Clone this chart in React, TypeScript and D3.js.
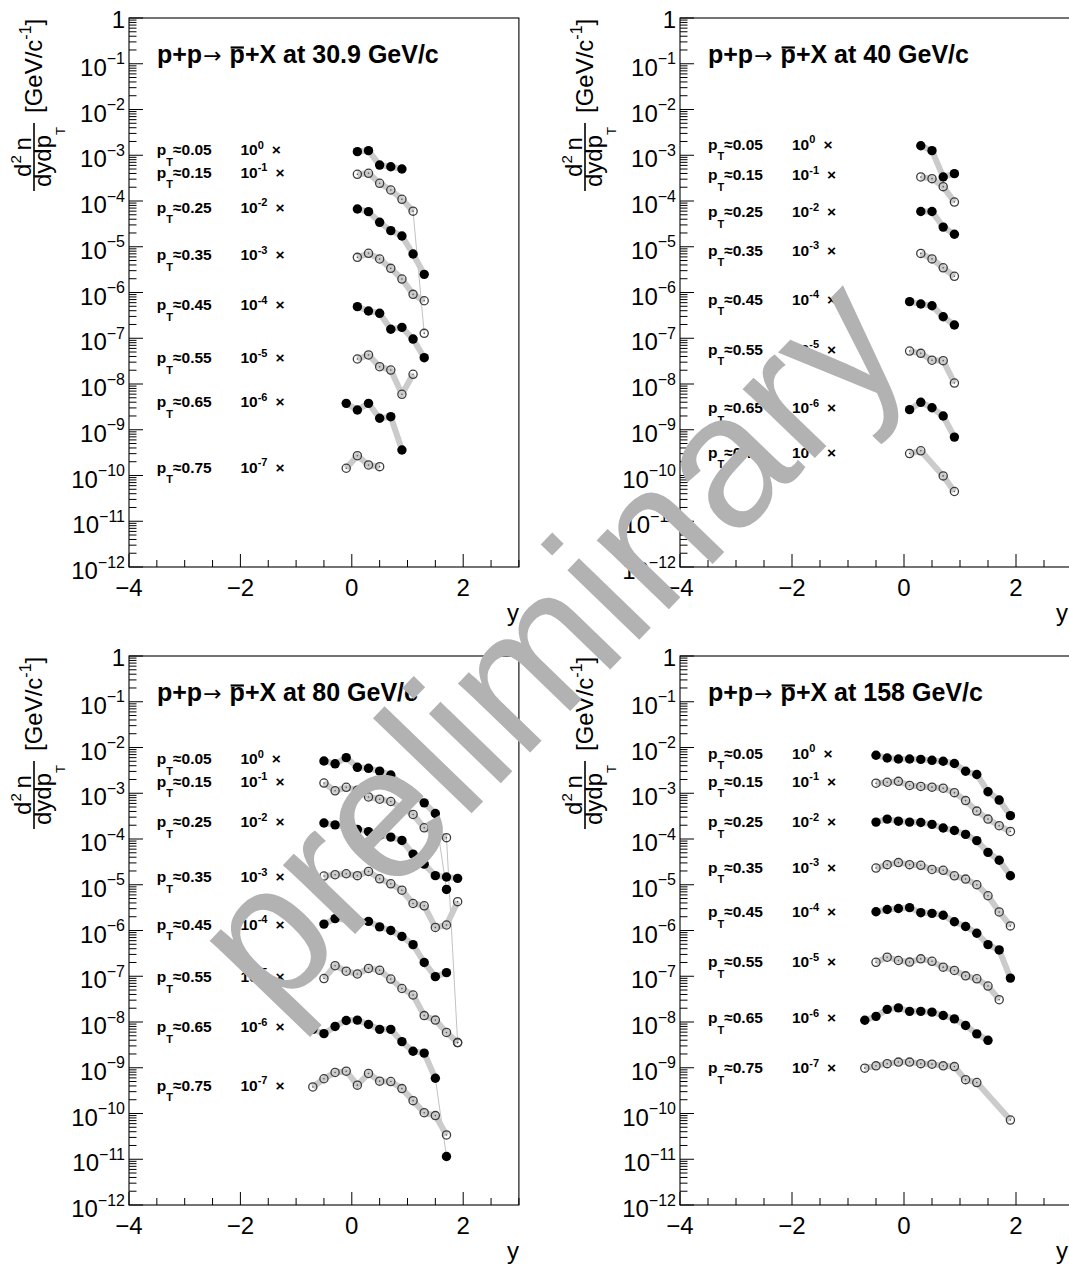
import React, { useEffect, useRef } from 'react';
import * as d3 from 'd3';

const SANS = "'Liberation Sans', Arial, Helvetica, sans-serif";
const MINUS = '\u2212';

// transverse-momentum bins and the power of ten each spectrum is multiplied by
const ptLabels = ['0.05', '0.15', '0.25', '0.35', '0.45', '0.55', '0.65', '0.75'];
const scalePowers = [0, -1, -2, -3, -4, -5, -6, -7];

// axis ticks
const xMajorTicks = [-4, -2, 0, 2];
const yDecadeExps = [0, -1, -2, -3, -4, -5, -6, -7, -8, -9, -10, -11, -12];

// ===== p+p at 30.9 GeV/c : rapidity bins and d2n/dydpT (unscaled) =====
const y31_005 = [0.1, 0.3, 0.5, 0.7, 0.9];
const d31_005 = [1.2e-3, 1.26e-3, 6.1e-4, 5.6e-4, 5.0e-4];
const y31_015 = [0.1, 0.3, 0.5, 0.7, 0.9, 1.1, 1.3];
const d31_015 = [3.84e-3, 4.03e-3, 2.44e-3, 1.74e-3, 1.09e-3, 6.0e-4, 1.28e-6];
const y31_025 = [0.1, 0.3, 0.5, 0.7, 0.9, 1.1, 1.3];
const d31_025 = [6.68e-3, 5.85e-3, 3.42e-3, 2.25e-3, 1.72e-3, 6.95e-4, 2.49e-4];
const y31_035 = [0.1, 0.3, 0.5, 0.7, 0.9, 1.1, 1.3];
const d31_035 = [5.87e-3, 7.19e-3, 5.4e-3, 3.37e-3, 1.97e-3, 9.1e-4, 6.6e-4];
const y31_045 = [0.1, 0.3, 0.5, 0.7, 0.9, 1.1, 1.3];
const d31_045 = [4.9e-3, 3.94e-3, 3.51e-3, 1.57e-3, 1.73e-3, 9.6e-4, 3.76e-4];
const y31_055 = [0.1, 0.3, 0.5, 0.7, 0.9, 1.1];
const d31_055 = [3.52e-3, 4.31e-3, 2.39e-3, 2.02e-3, 5.96e-4, 1.63e-3];
const y31_065 = [-0.1, 0.1, 0.3, 0.5, 0.7, 0.9];
const d31_065 = [3.78e-3, 2.7e-3, 3.78e-3, 1.78e-3, 1.93e-3, 3.6e-4];
const y31_075 = [-0.1, 0.1, 0.3, 0.5];
const d31_075 = [1.44e-3, 2.71e-3, 1.7e-3, 1.56e-3];
// leading points of each row joined by the systematic band (the rest by a thin line)
const band31 = [5, 6, 7, 7, 7, 6, 6, 4];
// log10 of the value each row label sits at
const label31 = [-2.995, -3.497, -4.262, -5.29, -6.383, -7.541, -8.503, -9.945];

// ===== p+p at 40 GeV/c =====
const y40_005 = [0.3, 0.5, 0.7, 0.9];
const d40_005 = [1.61e-3, 1.26e-3, 3.35e-4, 3.96e-4];
const y40_015 = [0.3, 0.5, 0.7, 0.9];
const d40_015 = [3.35e-3, 3.08e-3, 2.06e-3, 9.5e-4];
const y40_025 = [0.3, 0.5, 0.7, 0.9];
const d40_025 = [5.89e-3, 5.89e-3, 2.69e-3, 1.88e-3];
const y40_035 = [0.3, 0.5, 0.7, 0.9];
const d40_035 = [7.16e-3, 5.43e-3, 3.47e-3, 2.26e-3];
const y40_045 = [0.1, 0.3, 0.5, 0.7, 0.9];
const d40_045 = [6.31e-3, 5.62e-3, 5.13e-3, 2.95e-3, 1.95e-3];
const y40_055 = [0.1, 0.3, 0.5, 0.7, 0.9];
const d40_055 = [5.25e-3, 4.68e-3, 3.31e-3, 3.24e-3, 1.05e-3];
const y40_065 = [0.1, 0.3, 0.5, 0.7, 0.9];
const d40_065 = [2.75e-3, 3.98e-3, 3.02e-3, 2.0e-3, 6.9e-4];
const y40_075 = [0.1, 0.3, 0.7, 0.9];
const d40_075 = [3.02e-3, 3.47e-3, 9.8e-4, 4.47e-4];
const band40 = [4, 4, 4, 4, 5, 5, 5, 4];
const label40 = [-2.885, -3.541, -4.35, -5.202, -6.273, -7.366, -8.634, -9.617];

// ===== p+p at 80 GeV/c =====
const y80_005 = [-0.5, -0.3, -0.1, 0.1, 0.3, 0.5, 0.7, 1.3, 1.5, 1.7];
const d80_005 = [5.07e-3, 4.4e-3, 6.0e-3, 3.69e-3, 3.51e-3, 3.05e-3, 2.5e-3, 6.17e-4, 3.6e-4, 7.9e-6];
const y80_015 = [-0.5, -0.3, -0.1, 0.1, 0.3, 0.5, 0.7, 1.1, 1.3, 1.7, 1.9];
const d80_015 = [1.67e-2, 1.13e-2, 1.35e-2, 1.17e-2, 8.3e-3, 7.4e-3, 6.6e-3, 3.44e-3, 1.76e-3, 1.07e-3, 3.55e-8];
const y80_025 = [-0.5, -0.3, 0.1, 0.3, 0.5, 0.7, 0.9, 1.1, 1.3, 1.5, 1.7, 1.9];
const d80_025 = [2.24e-2, 2.04e-2, 1.62e-2, 1.45e-2, 1.2e-2, 1.1e-2, 9.3e-3, 4.68e-3, 2.82e-3, 1.58e-3, 1.48e-3, 1.38e-3];
const y80_035 = [-0.5, -0.3, -0.1, 0.1, 0.3, 0.5, 0.7, 0.9, 1.1, 1.3, 1.5, 1.7, 1.9];
const d80_035 = [1.55e-2, 1.66e-2, 1.74e-2, 1.58e-2, 1.95e-2, 1.35e-2, 1.05e-2, 7.6e-3, 3.89e-3, 3.47e-3, 1.17e-3, 1.32e-3, 4.27e-3];
const y80_045 = [-0.5, -0.3, 0.1, 0.3, 0.5, 0.7, 0.9, 1.1, 1.3, 1.5, 1.7];
const d80_045 = [1.38e-2, 1.82e-2, 1.62e-2, 1.58e-2, 1.2e-2, 1.0e-2, 7.4e-3, 4.9e-3, 2.0e-3, 9.8e-4, 1.2e-3];
const y80_055 = [-0.5, -0.3, -0.1, 0.1, 0.3, 0.5, 0.7, 0.9, 1.1, 1.3, 1.5, 1.7, 1.9];
const d80_055 = [8.9e-3, 1.7e-2, 1.29e-2, 1.12e-2, 1.48e-2, 1.35e-2, 8.7e-3, 5.4e-3, 3.89e-3, 1.38e-3, 1.1e-3, 5.9e-4, 3.55e-4];
const y80_065 = [-0.7, -0.5, -0.3, -0.1, 0.1, 0.3, 0.5, 0.7, 0.9, 1.1, 1.3, 1.5, 1.7];
const d80_065 = [6.9e-3, 5.56e-3, 8.0e-3, 1.08e-2, 1.1e-2, 8.8e-3, 6.9e-3, 6.9e-3, 3.72e-3, 2.29e-3, 2.09e-3, 5.9e-4, 1.15e-5];
const y80_075 = [-0.7, -0.5, -0.3, -0.1, 0.1, 0.3, 0.5, 0.7, 0.9, 1.1, 1.3, 1.5, 1.7];
const d80_075 = [3.8e-3, 5.75e-3, 7.9e-3, 8.4e-3, 4.17e-3, 7.5e-3, 5.1e-3, 5.0e-3, 3.5e-3, 1.91e-3, 1.04e-3, 9.0e-4, 3.4e-4];
const band80 = [9, 10, 12, 13, 11, 13, 12, 13];
const label80 = [-2.361, -2.863, -3.738, -4.94, -5.989, -7.126, -8.219, -9.508];

// ===== p+p at 158 GeV/c =====
const y158_005 = [-0.5, -0.3, -0.1, 0.1, 0.3, 0.5, 0.7, 0.9, 1.1, 1.3, 1.5, 1.7, 1.9];
const d158_005 = [6.76e-3, 5.89e-3, 5.62e-3, 5.62e-3, 5.5e-3, 5.25e-3, 5.0e-3, 4.47e-3, 3.02e-3, 2.57e-3, 1.08e-3, 7.1e-4, 3.24e-4];
const y158_015 = [-0.5, -0.3, -0.1, 0.1, 0.3, 0.5, 0.7, 0.9, 1.1, 1.3, 1.5, 1.7, 1.9];
const d158_015 = [1.66e-2, 1.74e-2, 1.82e-2, 1.48e-2, 1.41e-2, 1.36e-2, 1.29e-2, 1.03e-2, 6.9e-3, 4.07e-3, 2.72e-3, 1.95e-3, 1.46e-3];
const y158_025 = [-0.5, -0.3, -0.1, 0.1, 0.3, 0.5, 0.7, 0.9, 1.1, 1.3, 1.5, 1.7, 1.9];
const d158_025 = [2.34e-2, 2.72e-2, 2.45e-2, 2.34e-2, 2.29e-2, 2.09e-2, 1.74e-2, 1.53e-2, 1.26e-2, 9.2e-3, 5.1e-3, 3.43e-3, 1.57e-3];
const y158_035 = [-0.5, -0.3, -0.1, 0.1, 0.3, 0.5, 0.7, 0.9, 1.1, 1.3, 1.5, 1.7, 1.9];
const d158_035 = [2.32e-2, 2.75e-2, 3.05e-2, 2.75e-2, 2.66e-2, 2.16e-2, 2.07e-2, 1.57e-2, 1.33e-2, 1.0e-2, 5.75e-3, 2.54e-3, 1.26e-3];
const y158_045 = [-0.5, -0.3, -0.1, 0.1, 0.3, 0.5, 0.7, 0.9, 1.1, 1.3, 1.5, 1.7, 1.9];
const d158_045 = [2.57e-2, 2.88e-2, 3.02e-2, 3.16e-2, 2.45e-2, 2.37e-2, 2.16e-2, 1.55e-2, 1.22e-2, 8.7e-3, 4.9e-3, 3.76e-3, 9.1e-4];
const y158_055 = [-0.5, -0.3, -0.1, 0.1, 0.3, 0.5, 0.7, 0.9, 1.1, 1.3, 1.5, 1.7];
const d158_055 = [2.02e-2, 2.61e-2, 2.21e-2, 2.04e-2, 2.4e-2, 2.12e-2, 1.58e-2, 1.34e-2, 1.02e-2, 8.8e-3, 6.1e-3, 3.07e-3];
const y158_065 = [-0.7, -0.5, -0.3, -0.1, 0.1, 0.3, 0.5, 0.7, 0.9, 1.1, 1.3, 1.5];
const d158_065 = [1.09e-2, 1.33e-2, 1.89e-2, 2.04e-2, 1.71e-2, 1.71e-2, 1.64e-2, 1.39e-2, 1.17e-2, 8.4e-3, 5.5e-3, 3.98e-3];
const y158_075 = [-0.7, -0.5, -0.3, -0.1, 0.1, 0.3, 0.5, 0.7, 0.9, 1.1, 1.3, 1.9];
const d158_075 = [9.8e-3, 1.1e-2, 1.23e-2, 1.33e-2, 1.33e-2, 1.23e-2, 1.2e-2, 1.1e-2, 1.06e-2, 5.5e-3, 4.75e-3, 7.2e-4];
const band158 = [13, 13, 13, 13, 13, 12, 12, 12];
const label158 = [-2.251, -2.863, -3.738, -4.743, -5.705, -6.798, -8.022, -9.115];

const panels = [
  {
    beam: '30.9', left: 129, unit: 55.7, top: 18,
    rap: [y31_005, y31_015, y31_025, y31_035, y31_045, y31_055, y31_065, y31_075],
    dn: [d31_005, d31_015, d31_025, d31_035, d31_045, d31_055, d31_065, d31_075],
    band: band31, labels: label31,
  },
  {
    beam: '40', left: 680, unit: 56, top: 18,
    rap: [y40_005, y40_015, y40_025, y40_035, y40_045, y40_055, y40_065, y40_075],
    dn: [d40_005, d40_015, d40_025, d40_035, d40_045, d40_055, d40_065, d40_075],
    band: band40, labels: label40,
  },
  {
    beam: '80', left: 129, unit: 55.7, top: 656,
    rap: [y80_005, y80_015, y80_025, y80_035, y80_045, y80_055, y80_065, y80_075],
    dn: [d80_005, d80_015, d80_025, d80_035, d80_045, d80_055, d80_065, d80_075],
    band: band80, labels: label80,
  },
  {
    beam: '158', left: 680, unit: 56, top: 656,
    rap: [y158_005, y158_015, y158_025, y158_035, y158_045, y158_055, y158_065, y158_075],
    dn: [d158_005, d158_015, d158_025, d158_035, d158_045, d158_055, d158_065, d158_075],
    band: band158, labels: label158,
  },
];

function drawPanel(root: any, p: any) {
  const L = p.left;
  const R = L + 7 * p.unit;
  const T = p.top;
  const B = T + 549;
  const x = d3.scaleLinear().domain([-4, 3]).range([L, R]);
  const y = d3.scaleLog().domain([1e-12, 1]).range([B, T]);
  const g = root.append('g');

  // spectra: band, thin connecting line, then markers
  const line = d3.line<[number, number]>().x((d) => x(d[0])).y((d) => y(d[1]));
  const series = ptLabels.map((_, i) =>
    p.rap[i].map((r: number, j: number) => [r, p.dn[i][j] * Math.pow(10, scalePowers[i])] as [number, number])
  );
  const data = g.append('g');
  series.forEach((pts: [number, number][], i: number) => {
    const n = p.band[i];
    data.append('path').attr('d', line(pts.slice(0, n))).attr('fill', 'none')
      .attr('stroke', '#cbcbcb').attr('stroke-width', 6).attr('stroke-linejoin', 'round');
    if (n < pts.length) {
      data.append('path').attr('d', line(pts.slice(n - 1))).attr('fill', 'none')
        .attr('stroke', '#c2c2c2').attr('stroke-width', 1);
    }
  });
  series.forEach((pts: [number, number][], i: number) => {
    const filled = i % 2 === 0;
    pts.forEach(([r, v]) => {
      if (filled) {
        data.append('circle').attr('cx', x(r)).attr('cy', y(v)).attr('r', 4.7).attr('fill', '#000');
      } else {
        data.append('circle').attr('cx', x(r)).attr('cy', y(v)).attr('r', 4.1)
          .attr('fill', 'none').attr('stroke', '#3c3c3c').attr('stroke-width', 1.3);
        data.append('circle').attr('cx', x(r)).attr('cy', y(v)).attr('r', 0.8).attr('fill', '#555');
      }
    });
  });

  // frame
  g.append('rect').attr('x', L).attr('y', T).attr('width', R - L).attr('height', B - T)
    .attr('fill', 'none').attr('stroke', '#000').attr('stroke-width', 1.1);

  // log y axis: ticks at decades and at 2..9 within each decade
  const ticks = g.append('g').attr('stroke', '#000').attr('stroke-width', 1);
  yDecadeExps.forEach((e) => {
    const ty = y(Math.pow(10, e));
    ticks.append('line').attr('x1', L).attr('x2', L + 14).attr('y1', ty).attr('y2', ty);
    if (e > -12) {
      for (let k = 2; k <= 9; k++) {
        const my = y(k * Math.pow(10, e - 1));
        ticks.append('line').attr('x1', L).attr('x2', L + 7.5).attr('y1', my).attr('y2', my);
      }
    }
  });
  yDecadeExps.forEach((e) => {
    const ty = y(Math.pow(10, e));
    const t = g.append('text').attr('x', L - 4).attr('text-anchor', 'end').attr('font-size', 24);
    if (e === 0) {
      t.attr('y', ty + 10).text('1');
    } else {
      t.attr('y', ty + 12);
      t.append('tspan').text('10');
      t.append('tspan').attr('dy', -11.5).attr('font-size', 16).text(MINUS + -e);
    }
  });

  // linear x axis: labelled every 2, minor every 0.5
  d3.range(-4, 3.001, 0.5).forEach((v) => {
    const major = xMajorTicks.includes(v);
    ticks.append('line').attr('x1', x(v)).attr('x2', x(v)).attr('y1', B).attr('y2', B - (major ? 13 : 7));
  });
  xMajorTicks.forEach((v) => {
    g.append('text').attr('x', x(v)).attr('y', B + 28.5).attr('text-anchor', 'middle')
      .attr('font-size', 24).text(v < 0 ? MINUS + -v : String(v));
  });
  g.append('text').attr('x', Math.min(R, 1068)).attr('y', B + 54).attr('text-anchor', 'end')
    .attr('font-size', 24).text('y');

  // y-axis title: d2n/dydpT [GeV/c^-1], rotated
  const yt = g.append('g').attr('transform', `translate(0,${T + 139}) rotate(-90)`).attr('font-size', 24);
  const num = yt.append('text').attr('x', 0).attr('y', L - 98).attr('text-anchor', 'middle');
  num.append('tspan').text('d');
  num.append('tspan').attr('dy', -10).attr('font-size', 15).text('2');
  num.append('tspan').attr('dy', 10).text('\u2009n');
  yt.append('line').attr('x1', -34).attr('x2', 34).attr('y1', L - 95).attr('y2', L - 95)
    .attr('stroke', '#000').attr('stroke-width', 1.6);
  const den = yt.append('text').attr('x', 0).attr('y', L - 78).attr('text-anchor', 'middle');
  den.append('tspan').text('dydp');
  den.append('tspan').attr('dy', 14).attr('font-size', 13).text('T');
  const unit = yt.append('text').attr('x', 44).attr('y', L - 87);
  unit.append('tspan').text('[GeV/c');
  unit.append('tspan').attr('dy', -11).attr('font-size', 16).text('-1');
  unit.append('tspan').attr('dy', 11).text(']');

  // panel title with the antiproton bar
  const title = g.append('text').attr('x', L + 28).attr('y', T + 45).attr('font-size', 25).attr('font-weight', 'bold');
  title.append('tspan').text('p+p');
  title.append('tspan').attr('font-family', "'DejaVu Sans', sans-serif").attr('font-weight', 'normal')
    .attr('font-size', 22).attr('dx', 1).text('\u2192');
  title.append('tspan').text('\u2009');
  title.append('tspan').attr('dx', 3).text('p');
  title.append('tspan').text('+X at ' + p.beam + ' GeV/c');
  const tnode = title.node() as SVGTextElement;
  const ext = tnode.getExtentOfChar(5);
  g.append('line').attr('x1', ext.x + 1).attr('x2', ext.x + ext.width - 1)
    .attr('y1', T + 45 - 15.5).attr('y2', T + 45 - 15.5).attr('stroke', '#000').attr('stroke-width', 2.2);

  // row labels: pT bin and scale factor
  ptLabels.forEach((pt, i) => {
    const ly = y(Math.pow(10, p.labels[i]));
    const a = g.append('text').attr('x', x(-3.5)).attr('y', ly).attr('font-size', 15.5).attr('font-weight', 'bold');
    a.append('tspan').text('p');
    a.append('tspan').attr('dy', 10.5).attr('font-size', 11).text('T');
    a.append('tspan').attr('dy', -10.5).text('\u2248' + pt);
    const b = g.append('text').attr('x', x(-2)).attr('y', ly).attr('font-size', 15.5).attr('font-weight', 'bold');
    b.append('tspan').text('10');
    b.append('tspan').attr('dy', -6.5).attr('font-size', 11).text(String(scalePowers[i]));
    b.append('tspan').attr('dy', 6.5).attr('dx', 8).text('\u00d7');
  });
}

export default function App() {
  const ref = useRef<SVGSVGElement>(null);
  useEffect(() => {
    const svg = d3.select(ref.current);
    svg.selectAll('*').remove();
    svg.append('rect').attr('width', 1069).attr('height', 1265).attr('fill', '#fff');
    panels.forEach((p) => drawPanel(svg, p));
    // watermark across the figure
    svg.append('text').attr('transform', 'translate(273,1019) rotate(-46)')
      .attr('font-size', 189).attr('fill', '#b2b2b2').text('preliminary');
  }, []);
  return (
    <svg
      ref={ref}
      width={1069}
      height={1265}
      fontFamily={SANS}
      style={{ position: 'absolute', left: 0, top: 0, display: 'block' }}
    />
  );
}
